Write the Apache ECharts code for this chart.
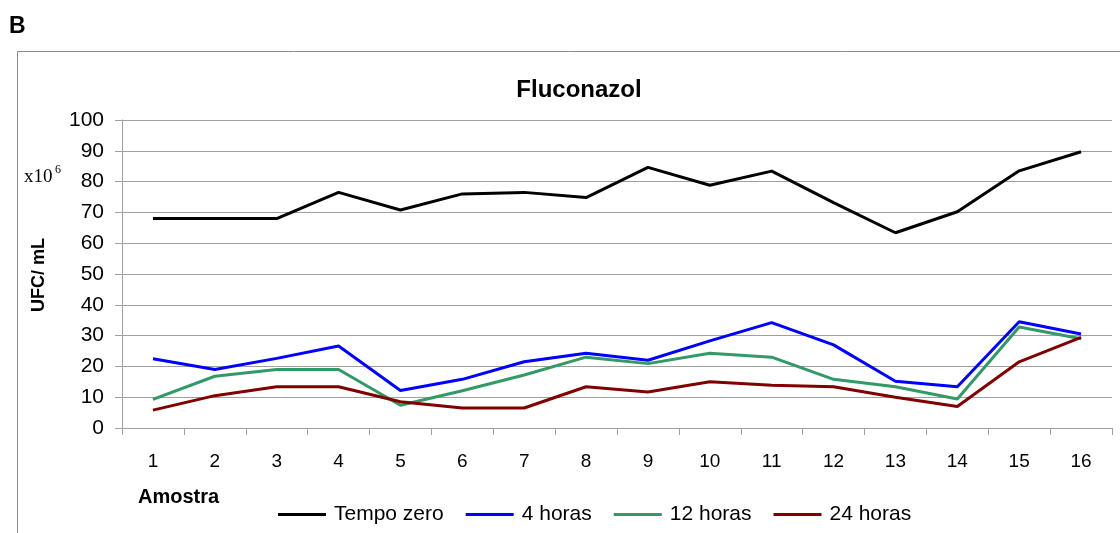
<!DOCTYPE html>
<html>
	<head>
		<meta charset="UTF-8">
		<title>Fluconazol</title>
		<script src="https://cdn.jsdelivr.net/npm/echarts@6/dist/echarts.min.js"></script>
		<style>
			html, body {
				margin: 0;
				padding: 0;
				background: #fff;
			}
			#chart {
				width: 1120px;
				height: 533px;
			}
		</style>
	</head>
	<body>
		<div id="chart"></div>
		<script>
			var amostras = ['1', '2', '3', '4', '5', '6', '7', '8', '9', '10', '11', '12', '13', '14', '15', '16'];
			var tempoZero = [68, 68, 68, 76.5, 70.8, 76, 76.5, 74.8, 84.6, 78.8, 83.4, 73.2, 63.4, 70.2, 83.5, 89.7];
			var quatroHoras = [22.5, 19, 22.6, 26.6, 12.2, 15.8, 21.5, 24.3, 22, 28.3, 34.2, 27, 15.2, 13.4, 34.5, 30.5];
			var dozeHoras = [9.3, 16.8, 19, 19, 7.4, 12.1, 17.2, 23, 20.9, 24.3, 23, 15.8, 13.4, 9.4, 32.8, 29];
			var vinteQuatroHoras = [5.8, 10.5, 13.4, 13.4, 8.5, 6.5, 6.5, 13.4, 11.7, 15, 13.9, 13.4, 10, 7, 21.5, 29.4];
			var serieNomes = ['Tempo zero', '4 horas', '12 horas', '24 horas'];
			var serieCores = ['#000000', '#0000ff', '#339966', '#800000'];

			var font = 'Arial, "Liberation Sans", sans-serif';
			var serif = '"Liberation Serif", "DejaVu Serif", serif';
			var chart = echarts.init(document.getElementById('chart'));

			var dados = [tempoZero, quatroHoras, dozeHoras, vinteQuatroHoras];
			var series = dados.map(function(d, i) {
				return {
					name: serieNomes[i],
					type: 'line',
					data: d,
					symbol: 'none',
					color: serieCores[i],
					lineStyle: { width: 3, color: serieCores[i] }
				};
			});

			chart.setOption({
				animation: false,
				backgroundColor: '#fff',
				textStyle: { fontFamily: font },
				title: {
					text: 'Fluconazol',
					left: 574,
					textAlign: 'center',
					top: 73,
					textStyle: { fontSize: 24, fontWeight: 'bold', color: '#000', fontFamily: font }
				},
				legend: {
					data: serieNomes,
					left: 273,
					top: 499,
					icon: 'rect',
					itemWidth: 48,
					itemHeight: 3,
					itemGap: 22,
					textStyle: { fontSize: 21, color: '#000', padding: [0, 0, 0, 3] }
				},
				grid: {
					left: 122,
					right: 8,
					top: 120,
					bottom: 105
				},
				xAxis: {
					type: 'category',
					data: amostras,
					boundaryGap: true,
					axisLine: { lineStyle: { color: '#a0a0a0', width: 1 } },
					axisTick: { show: true, interval: 0, length: 7, lineStyle: { color: '#a0a0a0' } },
					axisLabel: { fontSize: 19, color: '#000', margin: 24, interval: 0 }
				},
				yAxis: {
					type: 'value',
					min: 0,
					max: 100,
					interval: 10,
					axisLine: { show: true, lineStyle: { color: '#a0a0a0', width: 1 } },
					axisTick: { show: true, length: 7, lineStyle: { color: '#a0a0a0' } },
					axisLabel: { fontSize: 21, color: '#000', margin: 18 },
					splitLine: { lineStyle: { color: '#a0a0a0', width: 1 } }
				},
				graphic: [
					{
						type: 'rect',
						shape: { x: 17.5, y: 51.5, width: 1200, height: 600 },
						style: { fill: 'none', stroke: '#8c8c8c', lineWidth: 1 },
						silent: true
					},
					{
						type: 'text',
						x: 9,
						y: 27,
						style: { text: 'B', font: 'bold 23px ' + font, fill: '#000', verticalAlign: 'middle' }
					},
					{
						type: 'text',
						x: 24,
						y: 177,
						style: { text: 'x10', font: '19px ' + serif, fill: '#000', verticalAlign: 'middle' }
					},
					{
						type: 'text',
						x: 55,
						y: 170,
						style: { text: '6', font: '12px ' + serif, fill: '#000', verticalAlign: 'middle' }
					},
					{
						type: 'text',
						x: 39,
						y: 275,
						rotation: Math.PI / 2,
						style: { text: 'UFC/ mL', font: 'bold 18px ' + font, fill: '#000', align: 'center', verticalAlign: 'middle' }
					},
					{
						type: 'text',
						x: 138,
						y: 497,
						style: { text: 'Amostra', font: 'bold 20px ' + font, fill: '#000', verticalAlign: 'middle' }
					}
				],
				series: series
			});
		</script>
	</body>
</html>
